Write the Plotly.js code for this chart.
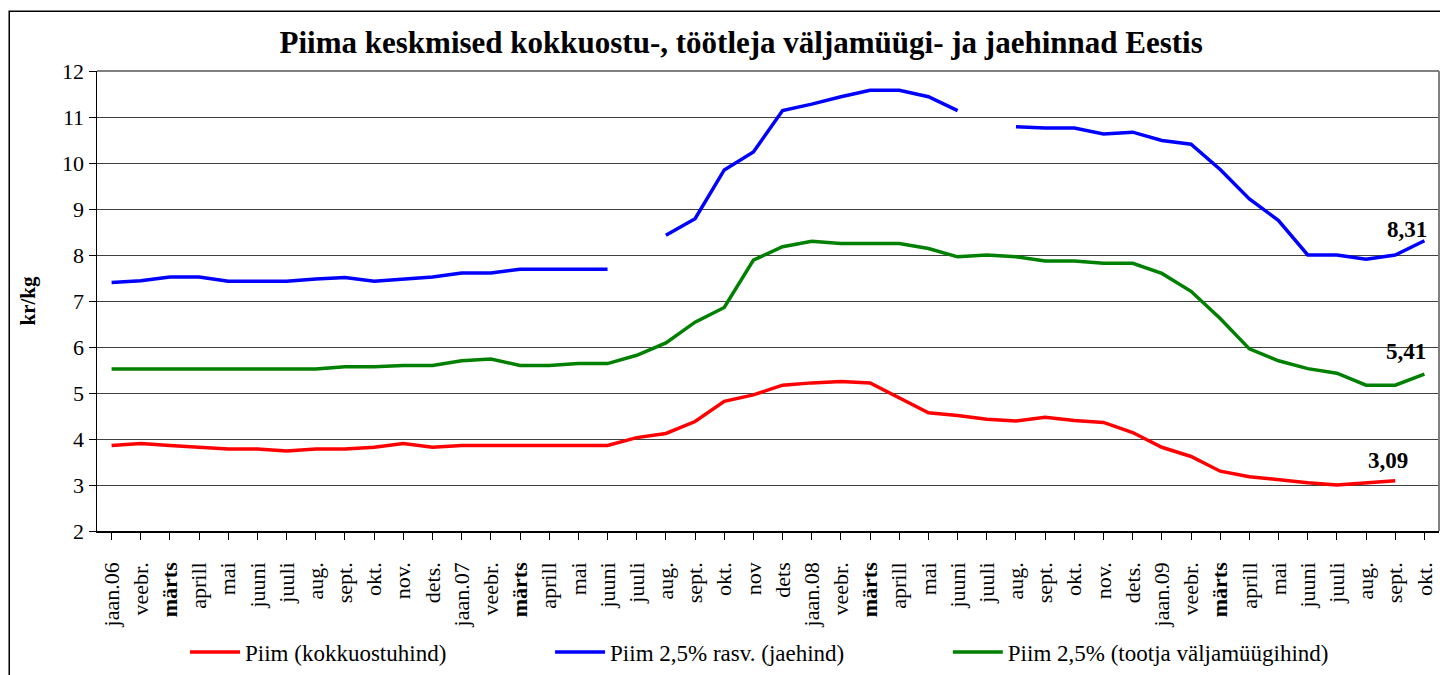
<!DOCTYPE html>
<html>
<head>
<meta charset="utf-8">
<script src="https://cdn.plot.ly/plotly-3.0.1.min.js"></script>
<style>
  html, body { margin: 0; padding: 0; background: #ffffff; }
  #chart { width: 1440px; height: 675px; }
</style>
</head>
<body>
<div id="chart"></div>
<script>
// Month labels (x axis)
const monthLabels = ['jaan.06','veebr.','märts','aprill','mai','juuni','juuli','aug.','sept.','okt.','nov.','dets.',
  'jaan.07','veebr.','märts','aprill','mai','juuni','juuli','aug.','sept.','okt.','nov','dets',
  'jaan.08','veebr.','märts','aprill','mai','juuni','juuli','aug.','sept.','okt.','nov.','dets.',
  'jaan.09','veebr.','märts','aprill','mai','juuni','juuli','aug.','sept.','okt.'];

// Piim (kokkuostuhind)
const purchasePrice = [3.86,3.90,3.86,3.82,3.78,3.78,3.74,3.78,3.78,3.82,3.90,3.82,
  3.86,3.86,3.86,3.86,3.86,3.86,4.03,4.12,4.38,4.82,4.96,5.17,
  5.22,5.25,5.22,4.90,4.57,4.51,4.43,4.39,4.47,4.40,4.36,4.14,
  3.82,3.62,3.30,3.18,3.11,3.05,3.00,3.05,3.09,null];

// Piim 2,5% rasv. (jaehind)
const retailPrice = [7.40,7.44,7.52,7.52,7.43,7.43,7.43,7.48,7.51,7.43,7.47,7.52,
  7.61,7.61,7.69,7.69,7.69,7.69,null,8.43,8.79,9.85,10.24,11.14,
  11.28,11.44,11.58,11.58,11.44,11.14,null,10.79,10.76,10.76,10.63,10.67,
  10.49,10.41,9.86,9.22,8.75,8.00,8.00,7.91,8.00,8.31];

// Piim 2,5% (tootja väljamüügihind)
const producerPrice = [5.52,5.52,5.52,5.52,5.52,5.52,5.52,5.52,5.57,5.57,5.60,5.60,
  5.70,5.74,5.60,5.60,5.64,5.64,5.82,6.09,6.54,6.86,7.89,8.18,
  8.30,8.25,8.25,8.25,8.14,7.96,8.00,7.96,7.87,7.87,7.82,7.82,
  7.60,7.21,6.62,5.96,5.70,5.53,5.43,5.17,5.17,5.41];

const seriesNames = ['Piim (kokkuostuhind)', 'Piim 2,5% rasv. (jaehind)', 'Piim 2,5% (tootja väljamüügihind)'];
const endLabels = ['3,09', '8,31', '5,41'];

const idx = monthLabels.map((_, i) => i);
const tickText = monthLabels.map(l => l === 'märts' ? '<b>märts</b>' : l);

const FONT = 'Liberation Serif, Times New Roman, Times, serif';

function lastIndex(arr) {
  for (let i = arr.length - 1; i >= 0; i--) if (arr[i] !== null) return i;
  return -1;
}

const traces = [
  {x: idx, y: purchasePrice, name: seriesNames[0], type: 'scatter', mode: 'lines',
   line: {color: '#ff0000', width: 3.5}, connectgaps: false, legend: 'legend'},
  {x: idx, y: retailPrice, name: seriesNames[1], type: 'scatter', mode: 'lines',
   line: {color: '#0000ff', width: 3.5}, connectgaps: false, legend: 'legend2'},
  {x: idx, y: producerPrice, name: seriesNames[2], type: 'scatter', mode: 'lines',
   line: {color: '#008000', width: 3.5}, connectgaps: false, legend: 'legend3'}
];

const iRed = lastIndex(purchasePrice), iBlue = lastIndex(retailPrice), iGreen = lastIndex(producerPrice);
const annFont = {family: FONT, size: 23, color: '#000'};
const annotations = [
  {x: iRed, y: purchasePrice[iRed], text: '<b>' + endLabels[0] + '</b>', showarrow: false, xshift: -7, yshift: 20, font: annFont},
  {x: iBlue, y: retailPrice[iBlue], text: '<b>' + endLabels[1] + '</b>', showarrow: false, xshift: -17, yshift: 11, font: annFont},
  {x: iGreen, y: producerPrice[iGreen], text: '<b>' + endLabels[2] + '</b>', showarrow: false, xshift: -18, yshift: 23, font: annFont}
];

const legendBase = {orientation: 'h', yanchor: 'middle', xanchor: 'left', y: -0.263,
  font: {family: FONT, size: 23, color: '#000'}, bgcolor: 'rgba(0,0,0,0)', itemwidth: 50};

const layout = {
  width: 1440, height: 675,
  margin: {l: 97, r: 1, t: 71, b: 140, pad: 0},
  paper_bgcolor: '#ffffff', plot_bgcolor: '#ffffff',
  font: {family: FONT, color: '#000'},
  title: {text: '<b>Piima keskmised kokkuostu-, töötleja väljamüügi- ja jaehinnad Eestis</b>',
    font: {family: FONT, size: 31, color: '#000'}, xref: 'paper', x: 0.48, xanchor: 'center',
    yref: 'container', y: 0.938, yanchor: 'middle'},
  xaxis: {
    range: [-0.5, monthLabels.length - 0.5], tickmode: 'array', tickvals: idx, ticktext: tickText,
    tickangle: -90, tickfont: {family: FONT, size: 22, color: '#000'},
    showgrid: false, zeroline: false, showline: true, linecolor: '#000', linewidth: 1.5,
    ticks: 'outside', ticklen: 7, tickcolor: '#000', tickwidth: 1, tickson: 'boundaries',
    ticklabelstandoff: 14, fixedrange: true
  },
  yaxis: {
    range: [2, 12], tick0: 2, dtick: 1, tickmode: 'linear',
    tickfont: {family: FONT, size: 22, color: '#000'},
    showgrid: true, gridcolor: '#404040', gridwidth: 1, zeroline: false,
    showline: true, linecolor: '#000', linewidth: 1.5,
    ticks: 'outside', ticklen: 7, tickcolor: '#000',
    title: {text: '<b>kr/kg</b>', font: {family: FONT, size: 21, color: '#000'}, standoff: 20},
    fixedrange: true
  },
  legend: Object.assign({}, legendBase, {x: 0.0656}),
  legend2: Object.assign({}, legendBase, {x: 0.3376}),
  legend3: Object.assign({}, legendBase, {x: 0.634}),
  annotations: annotations,
  shapes: [
    {type: 'line', xref: 'paper', yref: 'paper', x0: 0, x1: 1, y0: 1, y1: 1, line: {color: '#808080', width: 2}},
    {type: 'line', xref: 'paper', yref: 'paper', x0: 1, x1: 1, y0: 0, y1: 1, line: {color: '#808080', width: 2}},
    {type: 'rect', xref: 'paper', yref: 'paper', x0: -0.0654, x1: 1.2, y0: -0.6, y1: 1.13, line: {color: '#000', width: 1.5}, fillcolor: 'rgba(0,0,0,0)'}
  ],
  showlegend: true
};

Plotly.newPlot('chart', traces, layout, {displayModeBar: false, staticPlot: true});
</script>
</body>
</html>
